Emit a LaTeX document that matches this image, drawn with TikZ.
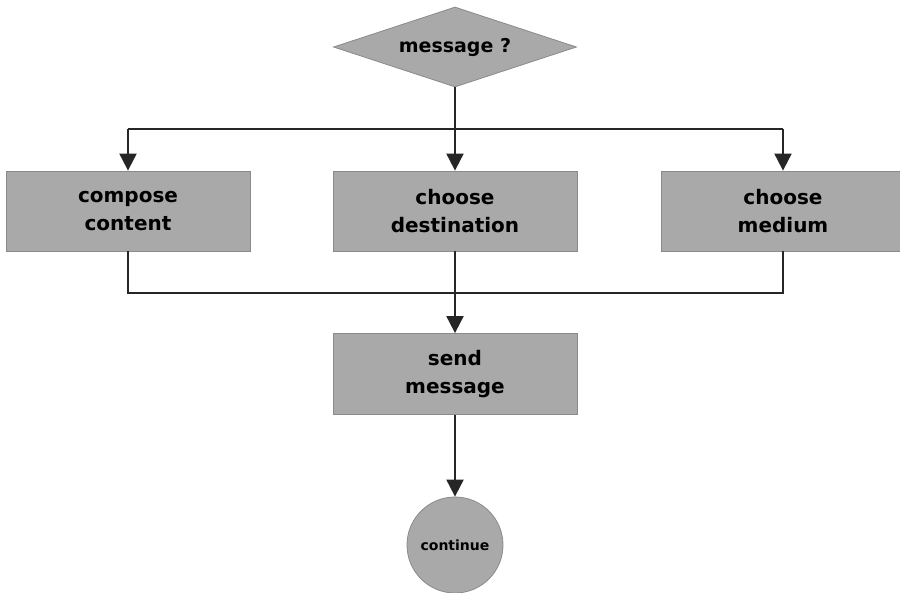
\documentclass[tikz,border=0pt]{standalone}
\usepackage{fontspec}
\setmainfont{DejaVu Sans}
\usetikzlibrary{shapes.geometric,arrows.meta}
\definecolor{boxgray}{HTML}{A9A9A9}
\definecolor{edgegray}{HTML}{8A8A8A}
\tikzset{
  stepbox/.style={rectangle, fill=boxgray, draw=edgegray, line width=0.8pt,
    minimum width=244pt, minimum height=80pt, inner sep=0pt, align=center,
    font=\fontsize{20}{28}\selectfont\bfseries},
  decide/.style={diamond, fill=boxgray, draw=edgegray, line width=0.8pt,
    minimum width=243pt, minimum height=80pt, inner sep=0pt, aspect=3,
    font=\fontsize{19}{26}\selectfont\bfseries},
  endcirc/.style={circle, fill=boxgray, draw=edgegray, line width=0.8pt,
    minimum size=96pt, inner sep=0pt, font=\fontsize{14}{16}\selectfont\bfseries},
  conn/.style={line width=2pt, draw=black!85},
  arr/.style={conn, -{Triangle[width=17pt,length=17pt]}}
}
\begin{document}
\begin{tikzpicture}[x=1pt,y=-1pt]
\useasboundingbox (0,0) rectangle (900,592);
\clip (0,0) rectangle (900,592);
\node[decide] (q) at (455,47) {message ?};
\node[stepbox] (comp) at (128,211) {compose\\content};
\node[stepbox] (dest) at (455,211) {choose\\destination};
\node[stepbox] (med) at (783,211) {choose\\medium};
\node[stepbox, minimum height=81pt] (send) at (455,374) {send\\message};
\node[endcirc] (cont) at (455,545) {continue};
\coordinate (tl) at (128,129);
\coordinate (tr) at (783,129);
\coordinate (bl) at (128,293);
\coordinate (br) at (783,293);
\draw[conn] (tl) -- (tr);
\draw[arr] (q.south) -- (dest.north);
\draw[arr] (tl) -- (comp.north);
\draw[arr] (tr) -- (med.north);
\draw[conn] (comp.south) -- (bl) -- (br) -- (med.south);
\draw[arr] (dest.south) -- (send.north);
\draw[arr] (send.south) -- (cont.north);
\end{tikzpicture}
\end{document}
